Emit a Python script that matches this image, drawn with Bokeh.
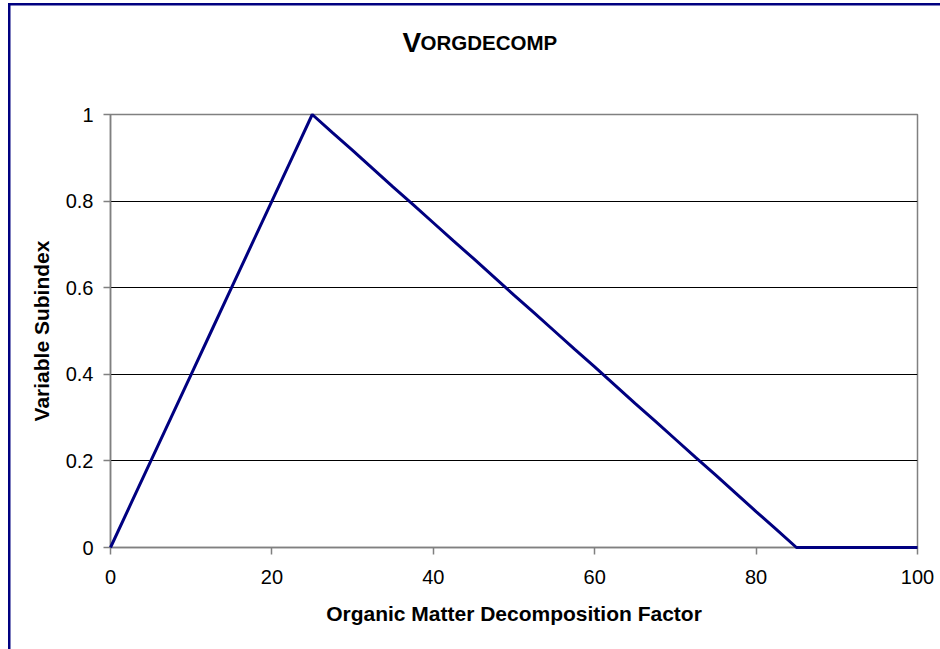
from bokeh.plotting import figure
from bokeh.models import Range1d, Label, FixedTicker
from bokeh.embed import file_html
from bokeh.resources import INLINE

# ---- data ----
x_values = [0, 2.5, 5, 7.5, 10, 12.5, 15, 17.5, 20, 22.5, 25, 27.5, 30, 32.5, 35,
            37.5, 40, 42.5, 45, 47.5, 50, 52.5, 55, 57.5, 60, 62.5, 65, 67.5, 70,
            72.5, 75, 77.5, 80, 82.5, 85, 87.5, 90, 92.5, 95, 97.5, 100]
y_values = [0, 0.1, 0.2, 0.3, 0.4, 0.5, 0.6, 0.7, 0.8, 0.9, 1.0, 0.958, 0.917, 0.875, 0.833,
            0.792, 0.75, 0.708, 0.667, 0.625, 0.583, 0.542, 0.5, 0.458, 0.417, 0.375, 0.333,
            0.292, 0.25, 0.208, 0.167, 0.125, 0.083, 0.042, 0, 0, 0, 0, 0, 0, 0]
x_ticks = [0, 20, 40, 60, 80, 100]
y_ticks = [0, 0.2, 0.4, 0.6, 0.8, 1]
y_tick_labels = {0: "0", 0.2: "0.2", 0.4: "0.4", 0.6: "0.6", 0.8: "0.8", 1: "1"}
title_initial = "V"
title_rest = "ORGDECOMP"
x_label = "Organic Matter Decomposition Factor"
y_label = "Variable Subindex"

FONT = "Liberation Sans"
NAVY = "#000080"
GRAY = "#808080"

p = figure(width=940, height=649, output_backend="svg", toolbar_location=None,
           x_range=Range1d(0, 100), y_range=Range1d(0, 1),
           min_border_left=110, min_border_right=23,
           min_border_top=114, min_border_bottom=102,
           # navy chart-area border on the left and top (right/bottom lie outside the window)
           styles={"box-shadow": "inset 8px 3px 0 0 #ffffff, inset 10.5px 5.5px 0 0 #000080"})
p.background_fill_color = "white"
p.border_fill_color = "white"
p.border_fill_alpha = 0
p.outline_line_color = GRAY
p.outline_line_width = 1.5

# axes
for ax in (p.xaxis[0], p.yaxis[0]):
    ax.axis_line_color = GRAY
    ax.axis_line_width = 1.5
    ax.major_tick_line_color = GRAY
    ax.major_tick_line_width = 1.5
    ax.major_tick_in = 0
    ax.major_tick_out = 7
    ax.minor_tick_line_color = None
    ax.major_label_text_font = FONT
    ax.major_label_text_font_size = "20px"
    ax.major_label_text_color = "black"
    ax.axis_label_text_font = FONT
    ax.axis_label_text_font_size = "21px"
    ax.axis_label_text_font_style = "bold"
    ax.axis_label_text_color = "black"

p.xaxis.ticker = FixedTicker(ticks=x_ticks)
p.yaxis.ticker = FixedTicker(ticks=y_ticks)
p.yaxis.major_label_overrides = y_tick_labels
p.xaxis.axis_label = x_label
p.yaxis.axis_label = y_label
p.xaxis.major_label_standoff = 15
p.yaxis.major_label_standoff = 10
p.xaxis.axis_label_standoff = 15
p.yaxis.axis_label_standoff = 10

p.xgrid.grid_line_color = None
p.ygrid.ticker = FixedTicker(ticks=y_ticks)
p.ygrid.grid_line_color = "black"
p.ygrid.grid_line_width = 1

# data line
r = p.line(x_values, y_values, line_color=NAVY, line_width=3)
r.level = "overlay"

# title in small caps (placed in the side panel so that it is not clipped to the frame)
p.add_layout(Label(x=402, y=42, x_units="canvas", y_units="canvas", text=title_initial,
                   text_font=FONT, text_font_size="28px", text_font_style="bold",
                   text_color="black", text_baseline="alphabetic", text_align="left"), "above")
p.add_layout(Label(x=420, y=42, x_units="canvas", y_units="canvas", text=title_rest,
                   text_font=FONT, text_font_size="20.5px", text_font_style="bold",
                   text_color="black", text_baseline="alphabetic", text_align="left"), "above")

open("out.html", "w").write(file_html(p, INLINE))
